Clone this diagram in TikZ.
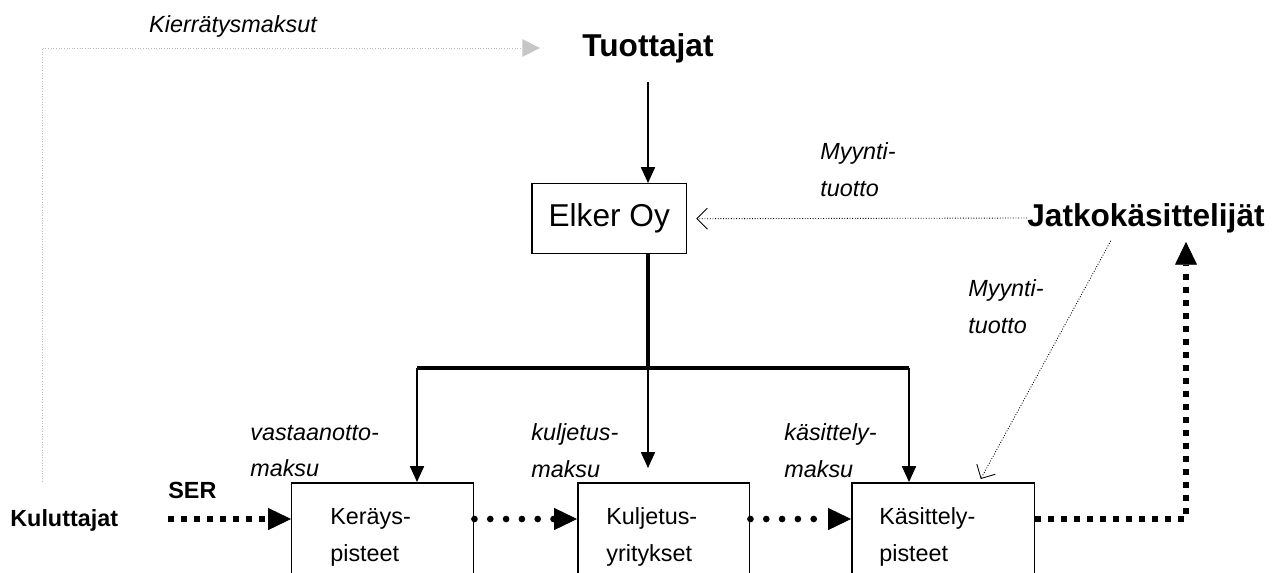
\documentclass[tikz,border=0pt]{standalone}
\usepackage{fontspec}
\setmainfont{Liberation Sans}
\usetikzlibrary{arrows.meta}
\tikzset{
    box/.style={draw,line width=0.85pt,anchor=north west,inner sep=0pt},
    actor/.style={font=\fontsize{18}{22}\selectfont\bfseries,inner sep=0pt},
    smallactor/.style={font=\fontsize{13.3}{21}\selectfont\bfseries,inner sep=0pt,anchor=west},
    fee/.style={font=\fontsize{13.3}{21}\selectfont\itshape,align=left,anchor=west,inner sep=0pt},
    boxtext/.style={font=\fontsize{13.3}{21}\selectfont,align=left,anchor=west,inner sep=0pt},
    pay/.style={line width=0.85pt,-{Triangle[length=9pt,width=8pt]}},
    bus/.style={line width=2pt},
    sale/.style={line width=0.5pt,densely dotted,-{Straight Barb[length=6pt,width=12pt]}},
    recycle/.style={line width=0.5pt,densely dotted,gray!55,-{Triangle[length=10pt,width=10pt,fill=gray!45,color=gray!45]}},
    goods/.style={line width=3.8pt,dash pattern=on 0pt off 9pt,line cap=round,
        -{Triangle[length=13pt,width=12.5pt,line width=0.5pt]}},
    waste/.style={line width=3.4pt,dash pattern=on 3.2pt off 4.2pt,
        -{Triangle[length=13pt,width=12.5pt,line width=0.5pt]}},
}

\begin{document}
\begin{tikzpicture}[x=0.02cm,y=-0.02cm]
    \path[use as bounding box,clip] (0,0) rectangle (1274,572);

    \node[actor] (tuot) at (648,48) {Tuottajat};
    \node[box,minimum width=3.1cm,minimum height=1.4cm,font=\fontsize{18}{22}\selectfont] (elker) at (531,183) {Elker Oy};
    \node[actor] (jatko) at (1146,218) {Jatkokäsittelijät};
    \node[smallactor] (kulutt) at (10,520) {Kuluttajat};
    \node[smallactor] (ser) at (168,490) {SER};

    % laatikot, alareuna kuvan ulkopuolella
    \node[box,minimum width=3.64cm,minimum height=2.6cm] (ker) at (291,482) {};
    \node[box,minimum width=3.44cm,minimum height=2.6cm] (kulj) at (577,482) {};
    \node[box,minimum width=3.66cm,minimum height=2.6cm] (kas) at (851,482) {};
    \node[boxtext] (kerT) at (330,537) {Keräys-\\pisteet};
    \node[boxtext] (kuljT) at (606,537) {Kuljetus-\\yritykset};
    \node[boxtext] (kasT) at (879,537) {Käsittely-\\pisteet};

    \node[fee,anchor=center] (kierr) at (233,26) {Kierrätysmaksut};
    \node[fee] (myy1) at (820,170) {Myynti-\\tuotto};
    \node[fee] (myy2) at (968,307) {Myynti-\\tuotto};
    \node[fee] (vast) at (250,451) {vastaanotto-\\maksu};
    \node[fee] (kulm) at (531,451) {kuljetus-\\maksu};
    \node[fee] (kasm) at (784,451) {käsittely-\\maksu};

    \coordinate (busL) at (417,368);
    \coordinate (busR) at (909,368);
    \coordinate (flow) at (0,519);
    \coordinate (kier) at (42,482);

    \draw[recycle,shorten >=24pt] (kier) |- (tuot.west);
    \draw[pay,shorten <=11pt] (tuot) -- (tuot |- elker.north);
    \draw[bus] (tuot |- elker.south) -- (tuot |- busL);
    \draw[bus] (busL) -- (busR);
    \draw[pay] (busL) -- (busL |- ker.north);
    \draw[pay,shorten >=8pt] (tuot |- busL) -- (tuot |- kulj.north);
    \draw[pay] (busR) -- (busR |- kas.north);

    \draw[sale,shorten >=5pt] (jatko.west) -- (elker.east);
    \draw[sale,shorten <=5pt] ([xshift=-0.62cm]jatko.south) -- ([xshift=0.75cm,yshift=0.06cm]kas.north);

    \draw[waste] (ser.west |- flow) -- (ker.west |- flow);
    \draw[goods] (ker.east |- flow) -- (kulj.west |- flow);
    \draw[goods] (kulj.east |- flow) -- (kas.west |- flow);
    \draw[waste,shorten >=5pt] (kas.east |- flow) -| ([xshift=0.8cm]jatko.south);
\end{tikzpicture}
\end{document}
